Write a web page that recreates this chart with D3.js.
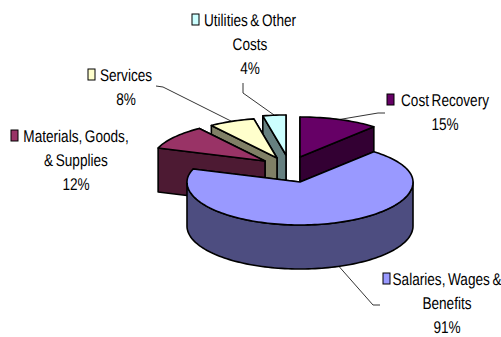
<!DOCTYPE html>
<html>
<head>
<meta charset="utf-8">
<script src="https://cdn.jsdelivr.net/npm/d3@7"></script>
<style>
    html, body { margin: 0; padding: 0; background: #fff; }
    text { font-family: "Liberation Sans", Arial, sans-serif; font-size: 17px; fill: #000; text-rendering: geometricPrecision; word-spacing: -1.5px; }
</style>
</head>
<body>
<div id="chart"></div>
<script>
// chart values, in drawing order round the pie (clockwise from the top)
var categories = ["Cost Recovery", "Salaries, Wages & Benefits", "Materials, Goods, & Supplies", "Services", "Utilities & Other Costs"];
var shares = [15, 61, 12, 8, 4];
var shareLabels = ["15%", "91%", "12%", "8%", "4%"];
var topColors = ["#660066", "#9999ff", "#993366", "#ffffcc", "#ccffff"];
var sideColors = ["#330033", "#4d4d80", "#4d1a33", "#808066", "#668080"];

var width = 501, height = 337;
var cx = 300, cy = 182;      // apex of the slice that is not pulled out
var rx = 113, ryFar = 40, ryNear = 43, depth = 44;

// how far each slice is pulled out from the centre, by hand
var pulled = [[0, -25], [0, 0], [-35, -21], [-23, -24], [-14, -27]];
// back to front
var drawOrder = [4, 3, 2, 0, 1];

// label blocks: lines, centre x, y of the first line, x of the legend key
var labels = [
    {i: 0, lines: ["Cost Recovery", shareLabels[0]], x: 445, y: 100, key: 387},
    {i: 1, lines: ["Salaries, Wages &", "Benefits", shareLabels[1]], x: 447, y: 279, key: 383},
    {i: 2, lines: ["Materials, Goods,", "& Supplies", shareLabels[2]], x: 76, y: 136, key: 11},
    {i: 3, lines: ["Services", shareLabels[3]], x: 126, y: 75, key: 88},
    {i: 4, lines: ["Utilities & Other", "Costs", shareLabels[4]], x: 250, y: 20, key: 192}
];
// leader bends: elbow points from the slice rim out to the label
var leaders = [
    {i: 0, bends: [[378, 113], [385, 113]]},
    {i: 1, bends: [[373, 305], [380, 305]]},
    {i: 3, bends: [[163, 87], [156, 86]]},
    {i: 4, bends: [[243, 93], [243, 83]]}
];

var svg = d3.select("#chart").append("svg")
    .attr("width", width)
    .attr("height", height)
    .style("display", "block");

var pie = d3.pie().sort(null).value(function(d) { return d; });
var slices = pie(shares);

// the view squeezes the far half of the pie, this maps true angle to drawn angle
var warp = d3.scaleLinear()
    .domain([-Math.PI, -Math.PI / 2, 0, Math.PI / 2, Math.PI])
    .range([-Math.PI, -74 * Math.PI / 180, 0, 68 * Math.PI / 180, Math.PI]);

function drawnAngle(a) {
    if (a > Math.PI) return warp(a - 2 * Math.PI) + 2 * Math.PI;
    return warp(a);
}

// screen offset of a drawn angle on the rim
function rim(a) {
    var c = Math.cos(a);
    return [rx * Math.sin(a), -(c > 0 ? ryFar : ryNear) * c];
}

function arcPoints(a0, a1, ox, oy) {
    var n = Math.max(2, Math.ceil((a1 - a0) / 0.03));
    return d3.range(n + 1).map(function(k) {
        var p = rim(a0 + (a1 - a0) * k / n);
        return [ox + p[0], oy + p[1]];
    });
}

function toPath(points) {
    return "M" + points.map(function(p) { return p[0] + "," + p[1]; }).join("L") + "Z";
}

function addShape(points, fill) {
    svg.append("path")
        .attr("d", toPath(points))
        .attr("fill", fill)
        .attr("stroke", "#000")
        .attr("stroke-width", 1.6)
        .attr("stroke-linejoin", "round");
}

drawOrder.forEach(function(i) {
    var s = slices[i];
    var a0 = drawnAngle(s.startAngle), a1 = drawnAngle(s.endAngle);
    var ox = cx + pulled[i][0], oy = cy + pulled[i][1];
    var start = rim(a0), end = rim(a1);

    // the two cut faces, the nearer one goes on last
    var faces = [start, end].map(function(p) {
        return [[ox, oy], [ox + p[0], oy + p[1]], [ox + p[0], oy + p[1] + depth], [ox, oy + depth]];
    });
    if (start[1] > end[1]) faces.reverse();
    faces.forEach(function(f) { addShape(f, sideColors[i]); });

    // outer wall, only the part that faces us
    var w0 = Math.max(a0, Math.PI / 2), w1 = Math.min(a1, 3 * Math.PI / 2);
    if (w1 > w0) {
        var upper = arcPoints(w0, w1, ox, oy);
        var lower = arcPoints(w0, w1, ox, oy + depth).reverse();
        addShape(upper.concat(lower), sideColors[i]);
    }

    // top face
    addShape([[ox, oy]].concat(arcPoints(a0, a1, ox, oy)), topColors[i]);
});

// leader lines start on the rim at the middle of the slice
leaders.forEach(function(l) {
    var s = slices[l.i];
    var p = rim(drawnAngle((s.startAngle + s.endAngle) / 2));
    var wall = Math.cos(drawnAngle((s.startAngle + s.endAngle) / 2)) < 0 ? depth : 0;
    var from = [cx + pulled[l.i][0] + p[0], cy + pulled[l.i][1] + p[1] + wall];
    svg.append("path")
        .attr("d", d3.line()([from].concat(l.bends)))
        .attr("fill", "none")
        .attr("stroke", "#000")
        .attr("stroke-width", 0.8);
});

// labels, squeezed sideways like the narrow type of the original
var squeeze = 0.8, lineGap = 24.2;
labels.forEach(function(l) {
    l.lines.forEach(function(line, k) {
        svg.append("text")
            .attr("transform", "translate(" + l.x + "," + (l.y + k * lineGap) + ") scale(" + squeeze + ",1)")
            .attr("text-anchor", "middle")
            .attr("dy", "0.34em")
            .text(line);
    });
    svg.append("rect")
        .attr("x", l.key)
        .attr("y", l.y - 6)
        .attr("width", 7)
        .attr("height", 11)
        .attr("fill", topColors[l.i])
        .attr("stroke", "#000")
        .attr("stroke-width", 1);
});
</script>
</body>
</html>
